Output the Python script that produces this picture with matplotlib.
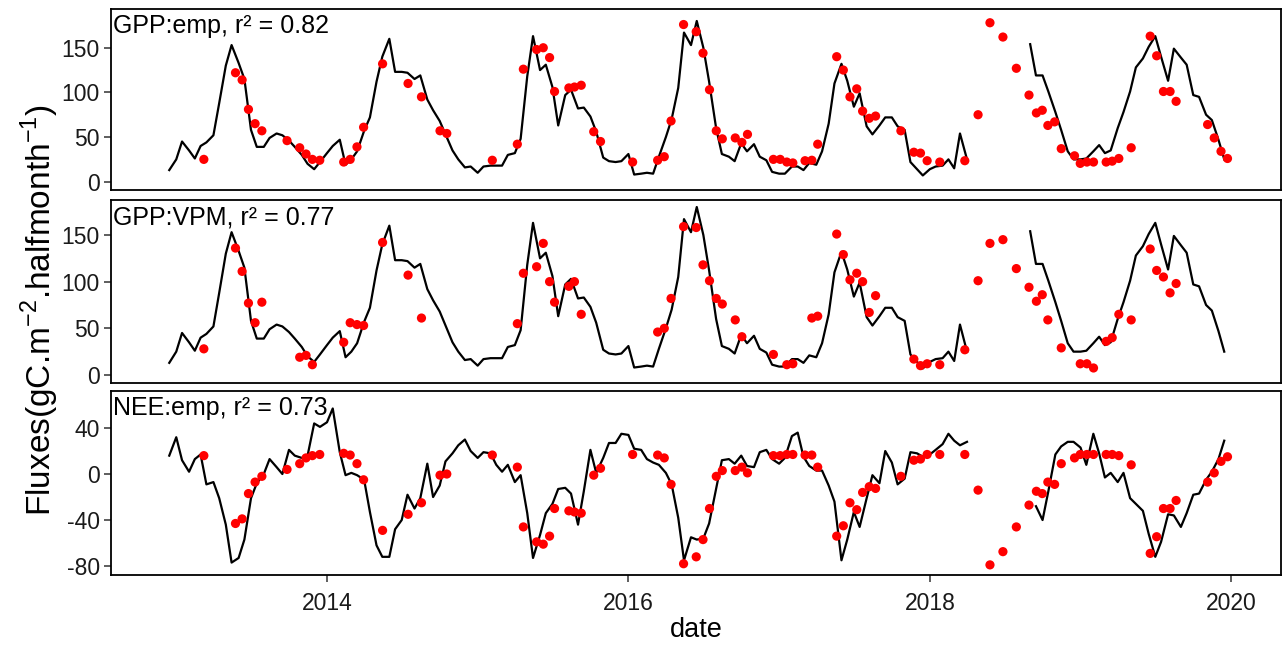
import numpy as np
import pandas as pd
import matplotlib
matplotlib.use("Agg")
import matplotlib.pyplot as plt

plt.rcParams['font.family'] = ['Liberation Sans', 'DejaVu Sans']
plt.rcParams['mathtext.fontset'] = 'custom'
plt.rcParams['mathtext.rm'] = 'Liberation Sans'

# ---------------- data ----------------
# modelled series, half-monthly
line_dates = pd.date_range('2012-12-15', periods=169, freq='SMS')

gpp_model = [13, 25, 45, 35, 26, 40, 44, 52, 88, 130,
             153, 133, 115, 58, 39, 39, 49, 54, 52, 46,
             39, 30, 20, 14, 22, 32, 40, 47, 19, 25,
             34, 57, 72, 112, 140, 160, 123, 123, 122, 115,
             119, 92, 80, 68, 53, 35, 25, 16, 17, 10,
             17, 18, 18, 18, 30, 32, 48, 118, 163, 125,
             131, 106, 63, 97, 103, 82, 83, 73, 56, 27,
             23, 22, 23, 31, 8, 9, 10, 9, 28, 50,
             70, 105, 167, 153, 180, 150, 112, 60, 31, 28,
             23, 43, 34, 42, 28, 24, 11, 9, 9, 17,
             17, 13, 21, 19, 34, 65, 110, 132, 113, 84,
             99, 62, 53, 63, 72, 72, 62, 58, 22, 14,
             7, 14, 17, 18, 25, 15, 54, 25,
             None, None, None, None, None, None, None, None, None,
             154, 119, 119, 101, 78, 58, 34, 25, 25, 26,
             34, 41, 32, 35, 60, 78, 101, 128, 138, 151,
             163, 140, 113, 149, 139, 131, 97, 95, 75, 69,
             47, 25]

nee_model = [16, 32, 12, 2, 13, 17, -9, -7, -21, -44,
             -77, -73, -57, -21, -8, 0, 13, 6, 0, 21,
             16, 14, 16, 44, 41, 45, 57, 19, -1, 1,
             -1, -5, -33, -62, -72, -72, -48, -40, -18, -30,
             -21, 9, -20, -10, 11, 18, 25, 30, 20, 14,
             19, 18, 8, 2, 8, -7, -1, -34, -73, -53,
             -34, -26, -13, -12, -17, -44, -15, 21, 1, 14,
             27, 27, 35, 34, 22, 21, 13, 10, 8, 1,
             -9, -38, -75, -55, -57, -56, -43, -13, 12, 13,
             9, 16, 7, 6, 19, 21, 13, 9, 14, 33,
             36, 15, 7, 3, 3, -10, -24, -75, -57, -33,
             -46, -21, -1, -8, 20, 10, -9, -4, 19, 18,
             15, 17, 21, 26, 35, 29, 25, 28,
             None, None, None, None, None, None, None, None, None, None,
             -28, -40, -15, 17, 24, 28, 28, 23, 8, 35,
             18, -3, 1, -7, 1, -21, -26, -32, -52, -72,
             -59, -35, -36, -46, -34, -18, -17, -5, 2, 13,
             29]

# observations (decimal year)
obs_year = [2013.183, 2013.393, 2013.437, 2013.479, 2013.523, 2013.568, 2013.735, 2013.819,
            2013.861, 2013.903, 2013.952, 2014.111, 2014.154, 2014.199, 2014.243, 2014.369,
            2014.538, 2014.627, 2014.750, 2014.795, 2015.097, 2015.263, 2015.303, 2015.391,
            2015.435, 2015.477, 2015.510, 2015.605, 2015.642, 2015.687, 2015.770, 2015.815,
            2016.028, 2016.194, 2016.238, 2016.283, 2016.366, 2016.450, 2016.495, 2016.538,
            2016.583, 2016.623, 2016.709, 2016.753, 2016.790, 2016.962, 2017.007, 2017.051,
            2017.091, 2017.172, 2017.217, 2017.256, 2017.382, 2017.426, 2017.470, 2017.515,
            2017.554, 2017.598, 2017.640, 2017.808, 2017.894, 2017.938, 2017.982, 2018.066,
            2018.232, 2018.320, 2018.399, 2018.485, 2018.574, 2018.658, 2018.707, 2018.746,
            2018.783, 2018.828, 2018.872, 2018.960, 2018.998, 2019.042, 2019.086, 2019.170,
            2019.210, 2019.254, 2019.336, 2019.462, 2019.505, 2019.550, 2019.594, 2019.634,
            2019.843, 2019.887, 2019.932, 2019.975]

gpp_emp = [25, 122, 114, 81, 65, 57, 46, 38,
           31, 25, 24, 22, 25, 39, 61, 132,
           110, 95, 57, 54, 24, 42, 126, 148,
           150, 139, 101, 105, 106, 108, 56, 45,
           22, 24, 28, 68, 176, 168, 144, 103,
           57, 48, 49, 44, 53, 25, 25, 22,
           21, 23.5, 24, 42, 140, 125, 95, 104,
           79, 71, 73.5, 57, 33, 32, 23.5, 22,
           23.5, 75, 178, 162, 127, 97, 77, 80,
           63, 67, 37, 29, 20.5, 22, 22, 22,
           23, 26, 38, 163, 141, 101, 101, 90,
           64, 49, 34, 26]

gpp_vpm = [28, 136, 111, 77, 56, 78, None, 19,
           21, 11, None, 35, 56, 54, 53, 142,
           107, 61, None, None, None, 55, 109, 116,
           141, 100, 78, 95, 100, 65, None, None,
           None, 46, 50, 82, 159, 158, 118, 101,
           82, 76, 59, 41, None, 22, None, 11,
           12, None, 61, 63, 151, 129, 102, 109,
           100, 67, 85, None, 17, 10, 12, 11,
           27, 101, 141, 145, 114, 94, 79, 86,
           59, None, 29, None, 12, 12, 7.5, 36,
           40, 65, 59, 135, 112, 105, 88, 98,
           None, None, None, None]

nee_emp = [16, -43, -39, -17, -7, -2, 4, 9,
           14, 16, 17, 18, 16.5, 9, -5, -49,
           -35, -25, -1, 0, 16.5, 6, -46, -59,
           -61, -54, -30, -32, -33, -34, -1, 5,
           17, 16.5, 14, -9, -78, -72, -57, -30,
           -2, 3, 3, 6, 1, 16, 16, 17,
           17, 16.5, 16.5, 6, -54, -45, -25, -31,
           -16, -11, -12.5, -2, 12, 13, 17, 17,
           17, -14, -79, -67.5, -46, -27, -15, -17,
           -7, -9, 9, 14, 17, 17, 17, 17,
           17, 16, 8, -69, -54.5, -30, -30, -23,
           -7, 1, 11, 15]

panel_labels = ["GPP:emp, r\u00b2 = 0.82", "GPP:VPM, r\u00b2 = 0.77", "NEE:emp, r\u00b2 = 0.73"]
y_ticks = [[0, 50, 100, 150], [0, 50, 100, 150], [-80, -40, 0, 40]]
y_lims = [(-9.3, 193.4), (-8.6, 187.5), (-87.8, 72.2)]
x_ticks = [2014, 2016, 2018, 2020]

# ---------------- plotting ----------------
def dec_year(d):
    days = np.where(d.is_leap_year, 366.0, 365.0)
    return d.year + (d.dayofyear - 1) / days

t_line = dec_year(line_dates)
t_obs = np.array(obs_year)

def arr(v):
    return np.array([np.nan if x is None else x for x in v], dtype=float)

models = [arr(gpp_model), arr(gpp_model), arr(nee_model)]
observations = [arr(gpp_emp), arr(gpp_vpm), arr(nee_emp)]

W, H = 1286, 645
fig = plt.figure(figsize=(W / 100, H / 100), dpi=100)
boxes = [(9, 190), (200, 383), (391, 575)]
left_px, right_px = 111, 1281

axes = []
for k, (top, bot) in enumerate(boxes):
    ax = fig.add_axes([left_px / W, 1 - bot / H, (right_px - left_px) / W, (bot - top) / H])
    ax.plot(t_line, models[k], color='black', lw=1.6, zorder=2)
    ax.scatter(t_obs, observations[k], s=44, color='#FF0000', edgecolors='none', zorder=3)
    ax.set_xlim(2012.567, 2020.33)
    ax.set_ylim(*y_lims[k])
    ax.set_yticks(y_ticks[k])
    ax.set_yticklabels([str(v) for v in y_ticks[k]])
    ax.set_xticks(x_ticks)
    for sp in ax.spines.values():
        sp.set_linewidth(1.3)
        sp.set_color('black')
    ax.tick_params(axis='both', direction='out', length=5, width=1.1, color='#333333',
                   labelsize=16.5, labelcolor='#1a1a1a')
    ax.tick_params(axis='y', pad=3)
    ax.tick_params(axis='x', pad=7)
    if k < 2:
        ax.tick_params(axis='x', which='both', bottom=False, labelbottom=False)
    ax.text(0.0015, 0.905, panel_labels[k], transform=ax.transAxes, ha='left', va='center',
            fontsize=18, color='black')
    axes.append(ax)

axes[2].set_xlabel('date', fontsize=19.5, labelpad=2)
fig.text(40 / W, 0.52, 'Fluxes(gC.m$^{\\mathrm{-2}}$.halfmonth$^{\\mathrm{-1}}$)', rotation=90,
         ha='center', va='center', fontsize=24)

fig.savefig('out.png', dpi=100)
